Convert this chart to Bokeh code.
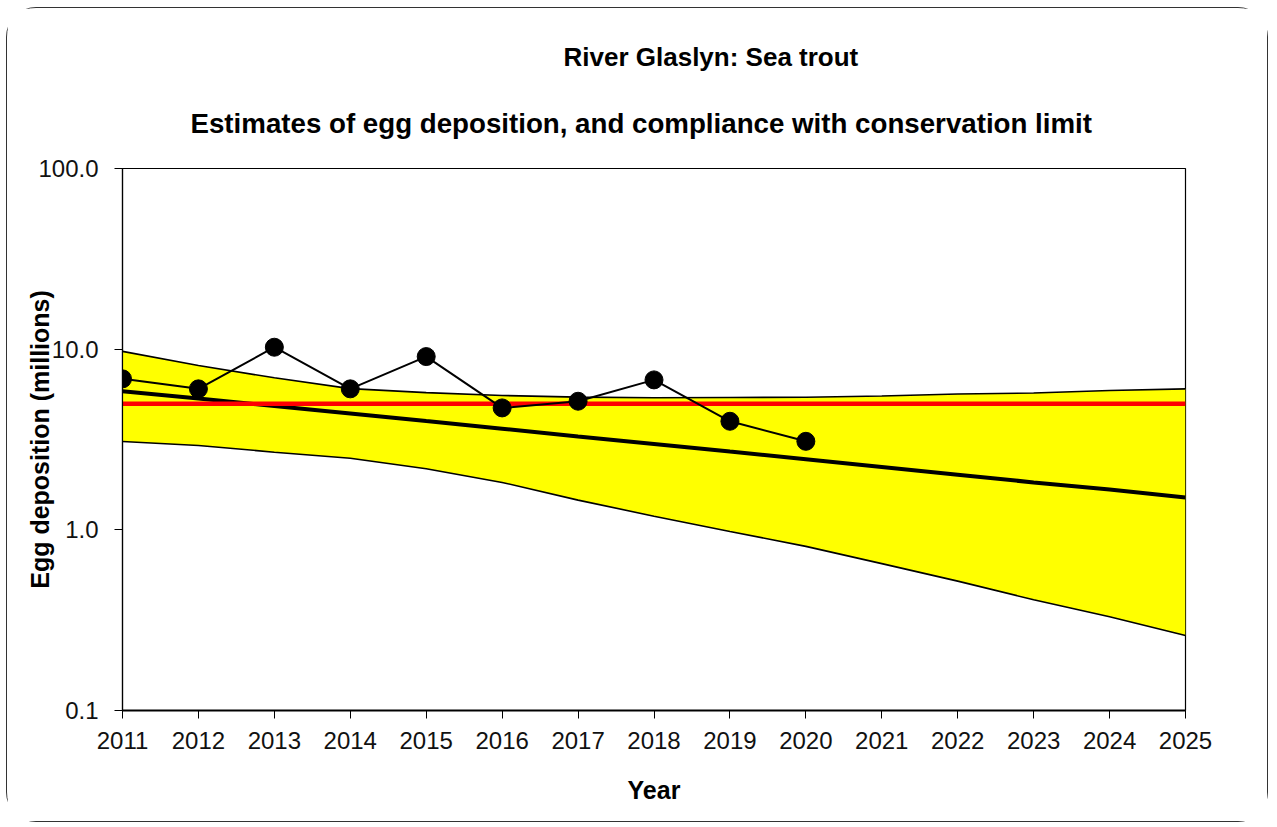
from bokeh.plotting import figure
from bokeh.models import Range1d, FixedTicker, PrintfTickFormatter, Title
from bokeh.embed import file_html
from bokeh.resources import INLINE

# ---- data ----
obs_years = [2011, 2012, 2013, 2014, 2015, 2016, 2017, 2018, 2019, 2020]
obs_eggs = [6.85, 6.03, 10.25, 6.03, 9.10, 4.73, 5.15, 6.76, 3.99, 3.09]

years = [2011, 2012, 2013, 2014, 2015, 2016, 2017, 2018, 2019, 2020,
         2021, 2022, 2023, 2024, 2025]
trend = [5.85, 5.33, 4.85, 4.41, 4.00, 3.63, 3.29, 2.99, 2.71, 2.46,
         2.23, 2.02, 1.83, 1.67, 1.51]
upper = [9.72, 8.12, 6.94, 6.05, 5.75, 5.54, 5.43, 5.38, 5.40, 5.42,
         5.50, 5.65, 5.72, 5.90, 6.03]
lower = [3.08, 2.93, 2.69, 2.49, 2.18, 1.83, 1.46, 1.19, 0.98, 0.81,
         0.65, 0.52, 0.41, 0.33, 0.26]
conservation_limit = 4.98

y_ticks = [0.1, 1.0, 10.0, 100.0]

FONT = "Liberation Sans"

p = figure(width=1262, height=815, output_backend="svg", toolbar_location=None,
           x_range=Range1d(2011, 2025), y_range=Range1d(0.1, 100),
           y_axis_type="log", title=None,
           min_border_left=115, min_border_right=84, min_border_bottom=113,
           min_border_top=10, background_fill_color="white",
           border_fill_color="white")
p.styles = {"margin-left": "6px", "margin-top": "7px",
            "border": "1px solid #333", "border-radius": "30px"}

p.outline_line_color = "black"
p.outline_line_width = 1.2
p.xgrid.visible = False
p.ygrid.visible = False

# band
p.varea(x=years, y1=lower, y2=upper, fill_color="#FFFF00")
p.line(years, upper, line_color="black", line_width=1.6)
p.line(years, lower, line_color="black", line_width=1.6)
# trend
p.line(years, trend, line_color="black", line_width=4)
# conservation limit
p.line([years[0], years[-1]], [conservation_limit, conservation_limit],
       line_color="#FF0000", line_width=4.5)
# observations
p.line(obs_years, obs_eggs, line_color="black", line_width=2)
p.scatter(obs_years, obs_eggs, size=18, fill_color="black", line_color="black")

# axes
p.xaxis.ticker = FixedTicker(ticks=years)
p.xaxis.major_tick_out = 8
p.xaxis.major_tick_in = 0
p.xaxis.minor_tick_line_color = None
p.xaxis.axis_line_width = 2
p.xaxis.major_label_standoff = 13
p.xaxis.major_label_text_font = FONT
p.xaxis.major_label_text_font_size = "24px"
p.xaxis.major_label_text_color = "#111111"
p.xaxis.axis_label = "Year"
p.xaxis.axis_label_text_font = FONT
p.xaxis.axis_label_text_font_size = "25px"
p.xaxis.axis_label_text_font_style = "bold"
p.xaxis.axis_label_text_color = "black"
p.xaxis.axis_label_standoff = 24

p.yaxis.ticker = FixedTicker(ticks=y_ticks)
p.yaxis.formatter = PrintfTickFormatter(format="%.1f")
p.yaxis.major_tick_out = 8
p.yaxis.major_tick_in = 0
p.yaxis.minor_tick_line_color = None
p.yaxis.axis_line_width = 1.2
p.yaxis.major_label_standoff = 16
p.yaxis.major_label_text_font = FONT
p.yaxis.major_label_text_font_size = "24px"
p.yaxis.major_label_text_color = "#111111"
p.yaxis.axis_label = "Egg deposition (millions)"
p.yaxis.axis_label_text_font = FONT
p.yaxis.axis_label_text_font_size = "25px"
p.yaxis.axis_label_text_font_style = "bold"
p.yaxis.axis_label_text_color = "black"
p.yaxis.axis_label_standoff = -19

# titles
p.add_layout(Title(text="Estimates of egg deposition, and compliance with conservation limit",
                   align="left", offset=68, text_font=FONT, text_font_size="27.7px",
                   text_font_style="bold", text_color="black", standoff=60), "above")
p.add_layout(Title(text="River Glaslyn: Sea trout", align="left", offset=441,
                   text_font=FONT, text_font_size="26px", text_font_style="bold",
                   text_color="black", standoff=7), "above")
# empty spacer above the titles
p.add_layout(Title(text=" ", text_font_size="1px", standoff=25), "above")

open("out.html", "w").write(file_html(p, INLINE))
